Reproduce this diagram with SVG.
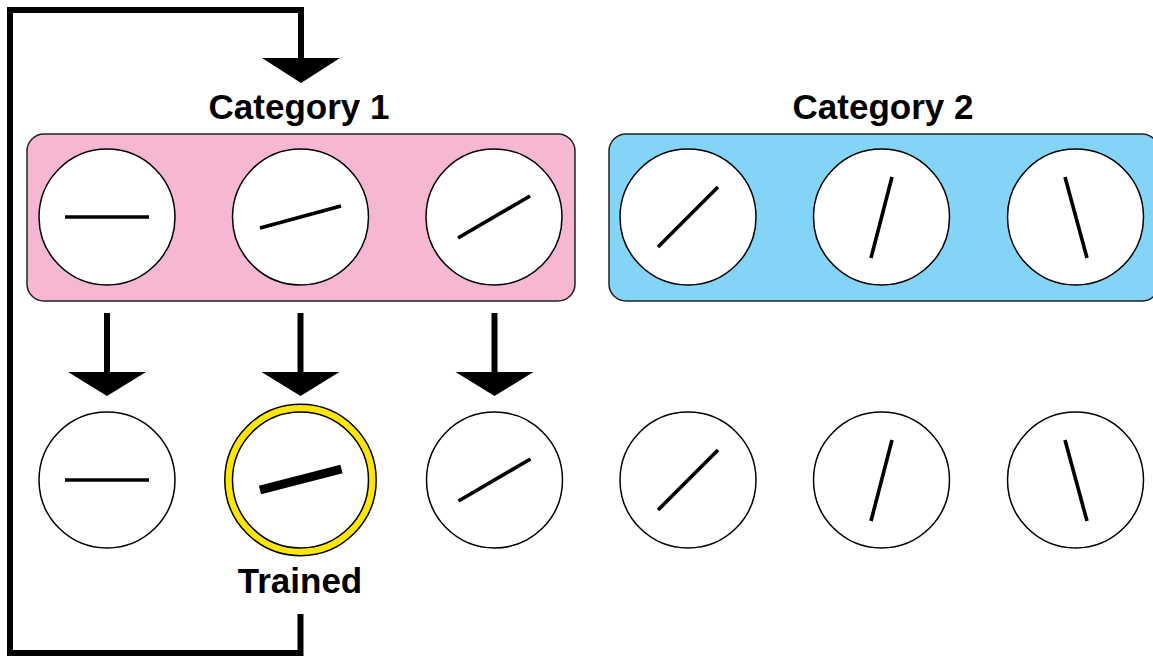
<svg xmlns="http://www.w3.org/2000/svg" width="1153" height="658" viewBox="0 0 1153 658">
<defs>
<style>
.lbl{font-family:"Liberation Sans",Arial,sans-serif;font-weight:bold;font-size:35px;fill:#000;text-anchor:middle}
.dial{fill:#fff;stroke:#000;stroke-width:1.5}
.bar{stroke:#000;stroke-width:3.6;stroke-linecap:butt}
.wire{fill:none;stroke:#000;stroke-width:6;stroke-linejoin:miter}
.head{fill:#000}
.box{stroke:#222;stroke-width:1.5}
</style>
</defs>
<rect width="1153" height="658" fill="#fff"/>
<g id="connectors">
<path class="wire" d="M300.5,614 V653 H10 V10 H301 V60"/>
<polygon class="head" points="262,58 340,58 301,83"/>
<line class="wire" x1="107" y1="313" x2="107" y2="374"/>
<polygon class="head" points="68,372 146,372 107,396"/>
<line class="wire" x1="300.5" y1="313" x2="300.5" y2="374"/>
<polygon class="head" points="261.5,372 339.5,372 300.5,396"/>
<line class="wire" x1="494.5" y1="313" x2="494.5" y2="374"/>
<polygon class="head" points="455.5,372 533.5,372 494.5,396"/>
</g>
<g id="category1">
<rect class="box" x="27" y="134" width="548" height="167" rx="17" fill="#F6B7D2"/>
<text class="lbl" x="299" y="119">Category 1</text>
</g>
<g id="category2">
<rect class="box" x="609" y="134" width="550" height="167" rx="17" fill="#83D4F6"/>
<text class="lbl" x="883" y="119">Category 2</text>
</g>
<g id="top1"><circle class="dial" cx="107" cy="217" r="68"/><line class="bar" x1="65" y1="217" x2="149" y2="217"/></g>
<g id="top2"><circle class="dial" cx="300.5" cy="217" r="68"/><line class="bar" x1="260" y1="228" x2="341" y2="206"/></g>
<g id="top3"><circle class="dial" cx="494" cy="217" r="68"/><line class="bar" x1="458" y1="238" x2="530" y2="196"/></g>
<g id="top4"><circle class="dial" cx="688" cy="217" r="68"/><line class="bar" x1="658" y1="247" x2="718" y2="187"/></g>
<g id="top5"><circle class="dial" cx="881.5" cy="217" r="68"/><line class="bar" x1="871" y1="258" x2="892" y2="177"/></g>
<g id="top6"><circle class="dial" cx="1075.5" cy="217" r="68"/><line class="bar" x1="1065" y1="177" x2="1087" y2="258"/></g>
<g id="bot1"><circle class="dial" cx="107" cy="480" r="68"/><line class="bar" x1="65" y1="480" x2="149" y2="480"/></g>
<g id="bot2">
<circle cx="300.5" cy="480" r="72" fill="none" stroke="#FFE600" stroke-width="7.5"/>
<circle cx="300.5" cy="480" r="75.7" fill="none" stroke="#000" stroke-width="1.5"/>
<circle class="dial" cx="300.5" cy="480" r="68"/>
<line x1="260" y1="490" x2="341.5" y2="469" stroke="#000" stroke-width="9"/>
<text class="lbl" x="300" y="593">Trained</text>
</g>
<g id="bot3"><circle class="dial" cx="494.5" cy="480" r="68"/><line class="bar" x1="458.5" y1="501" x2="530.5" y2="459"/></g>
<g id="bot4"><circle class="dial" cx="688" cy="480" r="68"/><line class="bar" x1="658" y1="510" x2="718" y2="450"/></g>
<g id="bot5"><circle class="dial" cx="881.5" cy="480" r="68"/><line class="bar" x1="871" y1="521" x2="892" y2="440"/></g>
<g id="bot6"><circle class="dial" cx="1075.5" cy="480" r="68"/><line class="bar" x1="1065" y1="440" x2="1087" y2="521"/></g>
</svg>
